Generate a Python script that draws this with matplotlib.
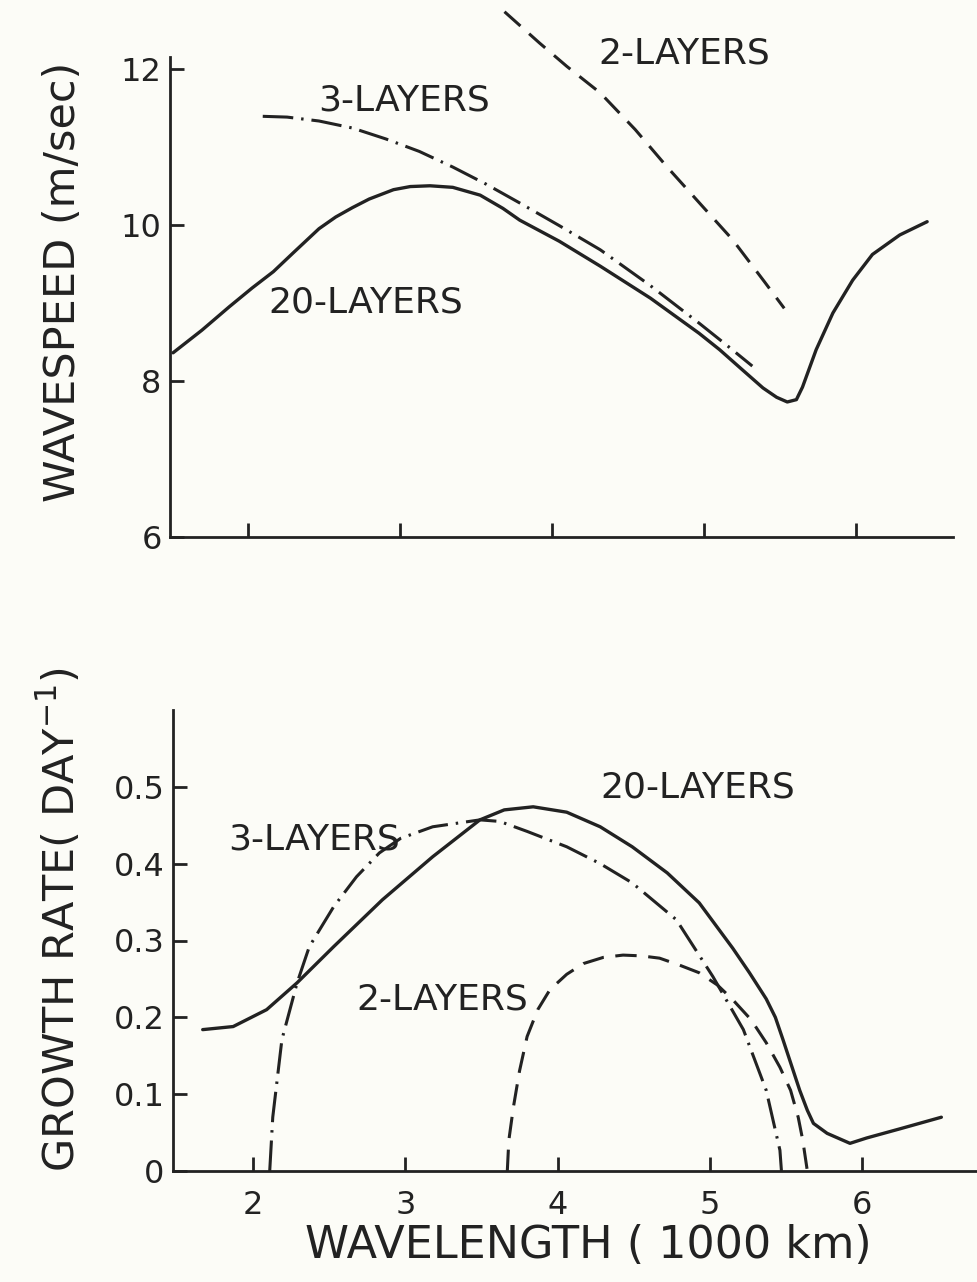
import matplotlib
matplotlib.use("Agg")
import matplotlib.pyplot as plt

# ---------------- data ----------------
# Top panel: wavespeed (m/sec) vs wavelength (1000 km)
ws20_x = [1.51, 1.70, 1.88, 2.03, 2.17, 2.30, 2.47, 2.58, 2.69, 2.80, 2.96, 3.07, 3.20, 3.35, 3.53, 3.68,
          3.79, 4.05, 4.32, 4.65, 4.97, 5.105, 5.25, 5.39, 5.48, 5.55, 5.61, 5.65, 5.74, 5.85, 5.98,
          6.11, 6.29, 6.47]
ws20_y = [8.36, 8.65, 8.95, 9.19, 9.40, 9.64, 9.95, 10.10, 10.22, 10.33, 10.45, 10.49, 10.50, 10.48, 10.38, 10.21,
          10.06, 9.79, 9.47, 9.06, 8.61, 8.40, 8.15, 7.91, 7.79, 7.73, 7.76, 7.92, 8.40, 8.87, 9.29,
          9.62, 9.87, 10.04]

ws3_x = [2.10, 2.26, 2.47, 2.69, 2.91, 3.13, 3.35, 3.57, 3.79, 4.05, 4.32, 4.65, 4.97, 5.15, 5.32]
ws3_y = [11.39, 11.38, 11.33, 11.24, 11.10, 10.94, 10.74, 10.52, 10.28, 9.99, 9.68, 9.22, 8.74, 8.46, 8.19]

ws2_x = [3.69, 3.92, 4.10, 4.32, 4.55, 4.76, 5.00, 5.19, 5.40, 5.53]
ws2_y = [12.73, 12.33, 12.03, 11.69, 11.22, 10.74, 10.22, 9.81, 9.27, 8.93]

# Bottom panel: growth rate (day^-1) vs wavelength (1000 km)
gr20_x = [1.67, 1.87, 2.09, 2.29, 2.53, 2.85, 3.18, 3.49, 3.65, 3.84, 4.06, 4.28, 4.49, 4.72, 4.93,
          5.15, 5.26, 5.37, 5.43, 5.48, 5.59, 5.64, 5.68, 5.77, 5.92, 6.03, 6.25, 6.52]
gr20_y = [0.184, 0.188, 0.210, 0.245, 0.292, 0.353, 0.409, 0.457, 0.470, 0.474, 0.467, 0.448, 0.422, 0.388, 0.349,
          0.290, 0.258, 0.224, 0.200, 0.171, 0.105, 0.079, 0.062, 0.049, 0.036, 0.043, 0.055, 0.070]

gr3_x = [2.11, 2.12, 2.13, 2.19, 2.29, 2.37, 2.53, 2.68, 2.83, 2.97, 3.18, 3.49, 3.62, 3.80,
         4.06, 4.28, 4.49, 4.78, 5.02, 5.22, 5.37, 5.46, 5.47]
gr3_y = [0.0, 0.035, 0.070, 0.171, 0.245, 0.292, 0.344, 0.383, 0.414, 0.433, 0.448, 0.457, 0.455, 0.442,
         0.422, 0.400, 0.375, 0.327, 0.253, 0.184, 0.105, 0.027, 0.0]

gr2_x = [3.67, 3.68, 3.71, 3.75, 3.80, 3.87, 3.95, 4.06, 4.17, 4.30, 4.43, 4.55, 4.67, 4.80,
         4.93, 5.05, 5.15, 5.27, 5.37, 5.46, 5.53, 5.58, 5.61, 5.64]
gr2_y = [0.0, 0.04, 0.083, 0.13, 0.175, 0.21, 0.236, 0.256, 0.27, 0.278, 0.281, 0.280, 0.277, 0.268,
         0.258, 0.242, 0.223, 0.197, 0.167, 0.135, 0.105, 0.07, 0.04, 0.0]

x_ticks = [2, 3, 4, 5, 6]
x_ticklabels = ["2", "3", "4", "5", "6"]
top_yticks = [6, 8, 10, 12]
top_yticklabels = ["6", "8", "10", "12"]
bot_yticks = [0, 0.1, 0.2, 0.3, 0.4, 0.5]
bot_yticklabels = ["0", "0.1", "0.2", "0.3", "0.4", "0.5"]

# ---------------- style ----------------
INK = "#222222"
BG = "#fcfcf7"
plt.rcParams['font.family'] = ['DejaVu Sans']
W, H = 978, 1282
fig = plt.figure(figsize=(W / 100, H / 100), dpi=100, facecolor=BG)

solid = dict(color=INK, lw=2.4, solid_capstyle='round', solid_joinstyle='round')
dashed = dict(color=INK, lw=2.2, linestyle=(0, (7, 3.8)))
dashdot = dict(color=INK, lw=2.2, linestyle=(0, (10, 2.6, 0.8, 2.6)))
LBL = 26


def style_axes(ax):
    ax.set_facecolor(BG)
    for s in ('top', 'right'):
        ax.spines[s].set_visible(False)
    for s in ('left', 'bottom'):
        ax.spines[s].set_linewidth(2.0)
        ax.spines[s].set_color(INK)
    ax.tick_params(axis='both', direction='in', length=10, width=2.0, color=INK,
                   labelcolor=INK, labelsize=23)
    ax.tick_params(axis='y', pad=6)
    ax.tick_params(axis='x', pad=14)


# ---------------- top panel ----------------
ax1 = fig.add_axes([170 / W, 1 - 537 / H, 783 / W, 480 / H])
style_axes(ax1)
ax1.set_xlim(1.49, 6.64)
ax1.set_ylim(6, 12.15)
ax1.plot(ws20_x, ws20_y, **solid)
ax1.plot(ws3_x, ws3_y, **dashdot)
ax1.plot(ws2_x, ws2_y, clip_on=False, **dashed)
ax1.set_xticks(x_ticks)
ax1.set_xticklabels([])
ax1.set_yticks(top_yticks)
ax1.set_yticklabels(top_yticklabels)
ax1.text(3.03, 11.59, "3-LAYERS", ha='center', va='center', fontsize=LBL, color=INK)
ax1.text(2.78, 9.00, "20-LAYERS", ha='center', va='center', fontsize=LBL, color=INK)
ax1.text(4.87, 12.20, "2-LAYERS", ha='center', va='center', fontsize=LBL, color=INK)

# ---------------- bottom panel ----------------
ax2 = fig.add_axes([173 / W, 1 - 1171 / H, 827 / W, 461 / H])
style_axes(ax2)
ax2.set_xlim(1.475, 6.905)
ax2.set_ylim(0, 0.60)
ax2.plot(gr20_x, gr20_y, **solid)
ax2.plot(gr3_x, gr3_y, **dashdot)
ax2.plot(gr2_x, gr2_y, **dashed)
ax2.set_xticks(x_ticks)
ax2.set_xticklabels(x_ticklabels)
ax2.set_yticks(bot_yticks)
ax2.set_yticklabels(bot_yticklabels)
ax2.text(2.40, 0.431, "3-LAYERS", ha='center', va='center', fontsize=LBL, color=INK)
ax2.text(3.24, 0.223, "2-LAYERS", ha='center', va='center', fontsize=LBL, color=INK)
ax2.text(4.92, 0.499, "20-LAYERS", ha='center', va='center', fontsize=LBL, color=INK)

# ---------------- axis titles ----------------
fig.text(63 / W, 1 - 282 / H, "WAVESPEED (m/sec)", rotation=90, ha='center', va='center',
         fontsize=31, color=INK)
fig.text(60 / W, 1 - 920 / H, "GROWTH RATE( DAY$^{-1}$)", rotation=90, ha='center', va='center',
         fontsize=31, color=INK)
fig.text(588 / W, 1 - 1245 / H, "WAVELENGTH ( 1000 km)", ha='center', va='center',
         fontsize=32, color=INK)

fig.savefig("out.png", dpi=100, facecolor=BG)
